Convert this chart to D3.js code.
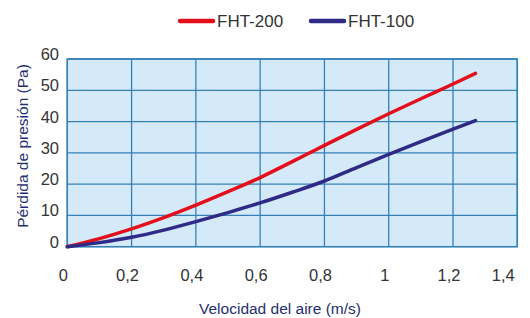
<!DOCTYPE html>
<html>
<head>
<meta charset="utf-8">
<script src="https://cdn.jsdelivr.net/npm/d3@7"></script>
<style>
  body { margin: 0; background: #fff; }
  svg text { font-family: "Liberation Sans", Arial, sans-serif; }
</style>
</head>
<body>
<div id="chart"></div>
<script>
// velocity (m/s) and pressure loss (Pa)
const velocity = [0, 0.1, 0.2, 0.3, 0.4, 0.5, 0.6, 0.7, 0.8, 0.9, 1.0, 1.1, 1.2, 1.27];
const fht200 = [0, 2.6, 5.7, 9.3, 13.3, 17.6, 22.1, 27.2, 32.4, 37.5, 42.5, 47.3, 52.0, 55.4];
const fht100 = [0, 1.3, 3.0, 5.3, 8.0, 10.9, 14.0, 17.4, 21.0, 25.3, 29.5, 33.6, 37.6, 40.3];
const xTicks = [0, 0.2, 0.4, 0.6, 0.8, 1, 1.2, 1.4];
const yTicks = [0, 10, 20, 30, 40, 50, 60];
const seriesNames = ["FHT-200", "FHT-100"];
const seriesColors = ["#e3101c", "#2e2a86"];

const width = 530, height = 318;
const svg = d3.select("#chart").append("svg")
    .attr("width", width)
    .attr("height", height);

const x = d3.scaleLinear().domain([0, 1.4]).range([67.3, 517.3]);
const y = d3.scaleLinear().domain([0, 60]).range([246.7, 59]);

const gridColor = "#3680b6";

// plot background
svg.append("rect")
    .attr("x", x(0)).attr("y", y(60))
    .attr("width", x(1.4) - x(0)).attr("height", y(0) - y(60))
    .attr("fill", "#d5eaf8")
    .attr("stroke", gridColor)
    .attr("stroke-width", 1.5);

// grid
svg.selectAll(".vgrid")
    .data(xTicks)
    .enter().append("line")
    .attr("x1", d => x(d)).attr("x2", d => x(d))
    .attr("y1", y(0)).attr("y2", y(60))
    .attr("stroke", gridColor).attr("stroke-width", 1.3);

svg.selectAll(".hgrid")
    .data(yTicks)
    .enter().append("line")
    .attr("x1", x(0)).attr("x2", x(1.4))
    .attr("y1", d => y(d)).attr("y2", d => y(d))
    .attr("stroke", gridColor).attr("stroke-width", 1.3);

// tick labels
svg.selectAll(".xlab")
    .data(xTicks)
    .enter().append("text")
    .attr("x", d => x(d) - (d >= 1.4 ? 14 : 4))
    .attr("y", 281)
    .attr("text-anchor", "middle")
    .attr("font-size", 16.5)
    .attr("fill", "#333")
    .text(d => String(d).replace(".", ","));

svg.selectAll(".ylab")
    .data(yTicks)
    .enter().append("text")
    .attr("x", 59)
    .attr("y", d => y(d) + 1)
    .attr("text-anchor", "end")
    .attr("font-size", 16.5)
    .attr("fill", "#333")
    .text(d => d);

// axis titles
svg.append("text")
    .attr("x", 280).attr("y", 314)
    .attr("text-anchor", "middle")
    .attr("font-size", 15.5)
    .attr("fill", "#1f2f72")
    .text("Velocidad del aire (m/s)");

svg.append("text")
    .attr("transform", "translate(28,146) rotate(-90)")
    .attr("text-anchor", "middle")
    .attr("font-size", 15.5)
    .attr("fill", "#1f2f72")
    .text("Pérdida de presión (Pa)");

// curves
const line = d3.line()
    .x((d, i) => x(velocity[i]))
    .y(d => y(d))
    .curve(d3.curveMonotoneX);

[fht200, fht100].forEach((vals, i) => {
    svg.append("path")
        .datum(vals)
        .attr("d", line)
        .attr("fill", "none")
        .attr("stroke", seriesColors[i])
        .attr("stroke-width", 3.5)
        .attr("stroke-linecap", "round");
});

// legend
const legendX = [180, 311];
seriesNames.forEach((name, i) => {
    svg.append("line")
        .attr("x1", legendX[i]).attr("x2", legendX[i] + 33)
        .attr("y1", 21).attr("y2", 21)
        .attr("stroke", seriesColors[i])
        .attr("stroke-width", 4.5)
        .attr("stroke-linecap", "round");
    svg.append("text")
        .attr("x", legendX[i] + 37).attr("y", 27)
        .attr("font-size", 17)
        .attr("fill", "#333")
        .text(name);
});
</script>
</body>
</html>
